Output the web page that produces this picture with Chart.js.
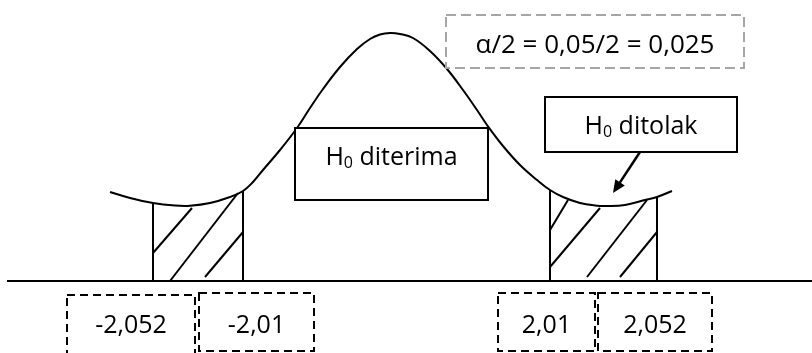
<!DOCTYPE html>
<html>
<head>
<meta charset="utf-8">
<script src="https://cdn.jsdelivr.net/npm/chart.js"></script>
<style>
  body { margin: 0; background: #fff; }
  #wrap { width: 812px; height: 353px; }
</style>
</head>
<body>
<div id="wrap"><canvas id="normalChart"></canvas></div>
<script>
// bell curve (x = position, y = height above baseline)
const curveX = [-2.80, -2.60, -2.37, -2.15, -2.00, -1.80, -1.60, -1.47, -1.37, -1.27, -1.10, -0.93, -0.80, -0.67, -0.50, -0.33, -0.20, -0.10, 0.00,
                0.10, 0.23, 0.40, 0.57, 0.73, 0.87, 0.97, 1.13, 1.30, 1.47, 1.60, 1.73, 1.90, 2.05, 2.17, 2.35, 2.55, 2.67, 2.82];
const curveY = [0.89, 0.83, 0.78, 0.755, 0.753, 0.78, 0.84, 0.90, 0.99, 1.11, 1.31, 1.53, 1.73, 1.92, 2.14, 2.32, 2.42, 2.465, 2.48,
                2.47, 2.43, 2.30, 2.12, 1.91, 1.71, 1.56, 1.35, 1.16, 1.01, 0.91, 0.84, 0.78, 0.755, 0.75, 0.76, 0.81, 0.84, 0.90];

// edges of the rejection regions and the curve height there
const tailX = [-2.37, -1.47, 1.60, 2.67];
const tailY = [0.78, 0.90, 0.91, 0.84];

// hatch strokes inside the regions: [x1, y1, x2, y2]
const hatchLines = [
  [-2.37, 0.28, -1.98, 0.73],
  [-2.20, 0.00, -1.52, 0.88],
  [-1.85, 0.04, -1.47, 0.49],
  [1.60, 0.51, 1.78, 0.81],
  [1.60, 0.14, 2.10, 0.73],
  [1.97, 0.04, 2.57, 0.81],
  [2.30, 0.04, 2.67, 0.49]
];

// base line
const axisX = [-3.83, 4.22];

// labels
const tickLabels = ['-2,052', '-2,01', '2,01', '2,052'];
const alphaText = 'α/2 = 0,05/2 = 0,025';

// boxes: layout only
let boxes = [
  {x1: 0.56, x2: 3.54, y1: 2.66, y2: 2.13, ty: 2.355, text: alphaText, color: '#a6a6a6', dash: [10, 5], size: 26},
  {x1: -0.95, x2: 0.98, y1: 1.53, y2: 0.81, ty: 1.235, text: 'H|0| diterima', color: '#000', fill: true, size: 25},
  {x1: 1.55, x2: 3.47, y1: 1.84, y2: 1.29, ty: 1.545, text: 'H|0| ditolak', color: '#000', fill: true, size: 25},
  {x1: -3.23, x2: -1.95, y1: -0.14, y2: -0.80, ty: -0.45, text: tickLabels[0], color: '#000', dash: [8, 5], size: 25},
  {x1: -1.91, x2: -0.76, y1: -0.12, y2: -0.70, ty: -0.45, text: tickLabels[1], color: '#000', dash: [8, 5], size: 25},
  {x1: 1.08, x2: 2.05, y1: -0.12, y2: -0.70, ty: -0.45, text: tickLabels[2], color: '#000', dash: [8, 5], size: 25},
  {x1: 2.08, x2: 3.22, y1: -0.12, y2: -0.70, ty: -0.45, text: tickLabels[3], color: '#000', dash: [8, 5], size: 25}
];

let arrow = {x1: 2.50, y1: 1.29, x2: 2.23, y2: 0.88};

function seg(points) {
  return {
    data: points,
    borderColor: '#000',
    borderWidth: 2,
    pointRadius: 0,
    tension: 0,
    fill: false
  };
}

function buildDatasets() {
  let sets = [];
  let curve = seg(curveX.map((x, i) => ({x: x, y: curveY[i]})));
  curve.tension = 0.4;
  sets.push(curve);
  sets.push(seg(axisX.map(x => ({x: x, y: 0}))));
  tailX.forEach((x, i) => {
    sets.push(seg([{x: x, y: 0}, {x: x, y: tailY[i]}]));
  });
  hatchLines.forEach(h => {
    sets.push(seg([{x: h[0], y: h[1]}, {x: h[2], y: h[3]}]));
  });
  return sets;
}

function drawLabel(ctx, text, cx, cy, size) {
  // "H|0| rest" -> H with subscript 0
  let parts = text.split('|');
  let big = size + 'px "Open Sans"';
  let small = Math.round(size * 0.65) + 'px "Open Sans"';
  let widths = parts.map((p, i) => {
    ctx.font = (i === 1) ? small : big;
    return ctx.measureText(p).width;
  });
  let total = widths.reduce((a, b) => a + b, 0);
  let x = cx - total / 2;
  ctx.textBaseline = 'middle';
  ctx.textAlign = 'left';
  ctx.fillStyle = '#000';
  parts.forEach((p, i) => {
    ctx.font = (i === 1) ? small : big;
    ctx.fillText(p, x, (i === 1) ? cy + size * 0.25 : cy);
    x += widths[i];
  });
}

const boxPlugin = {
  id: 'boxes',
  afterDatasetsDraw(chart) {
    let ctx = chart.ctx;
    let xs = chart.scales.x, ys = chart.scales.y;
    ctx.save();

    // arrow
    let ax1 = xs.getPixelForValue(arrow.x1), ay1 = ys.getPixelForValue(arrow.y1);
    let ax2 = xs.getPixelForValue(arrow.x2), ay2 = ys.getPixelForValue(arrow.y2);
    let ang = Math.atan2(ay2 - ay1, ax2 - ax1);
    let head = 14;
    ctx.strokeStyle = '#000';
    ctx.lineWidth = 2.5;
    ctx.beginPath();
    ctx.moveTo(ax1, ay1);
    ctx.lineTo(ax2 - Math.cos(ang) * head * 0.8, ay2 - Math.sin(ang) * head * 0.8);
    ctx.stroke();
    ctx.fillStyle = '#000';
    ctx.beginPath();
    ctx.moveTo(ax2, ay2);
    ctx.lineTo(ax2 - head * Math.cos(ang - 0.42), ay2 - head * Math.sin(ang - 0.42));
    ctx.lineTo(ax2 - head * Math.cos(ang + 0.42), ay2 - head * Math.sin(ang + 0.42));
    ctx.closePath();
    ctx.fill();

    boxes.forEach(b => {
      let left = xs.getPixelForValue(b.x1), right = xs.getPixelForValue(b.x2);
      let top = ys.getPixelForValue(b.y1), bottom = ys.getPixelForValue(b.y2);
      if (b.fill) {
        ctx.fillStyle = '#fff';
        ctx.fillRect(left, top, right - left, bottom - top);
      }
      ctx.strokeStyle = b.color;
      ctx.lineWidth = 2;
      ctx.setLineDash(b.dash || []);
      ctx.strokeRect(left, top, right - left, bottom - top);
      ctx.setLineDash([]);
      drawLabel(ctx, b.text, (left + right) / 2, ys.getPixelForValue(b.ty), b.size);
    });
    ctx.restore();
  }
};

let chartformat = {};
chartformat.type = 'line';
chartformat.data = {datasets: buildDatasets()};
let options = chartformat.options = {};
options.responsive = true;
options.maintainAspectRatio = false;
options.animation = false;
options.layout = {padding: 0};
options.plugins = {legend: {display: false}, tooltip: {enabled: false}};
options.scales = {
  x: {type: 'linear', min: -3.90, max: 4.22, display: false},
  y: {type: 'linear', min: -0.72, max: 2.81, display: false}
};
chartformat.plugins = [boxPlugin];

new Chart(document.getElementById('normalChart'), chartformat);
</script>
</body>
</html>
